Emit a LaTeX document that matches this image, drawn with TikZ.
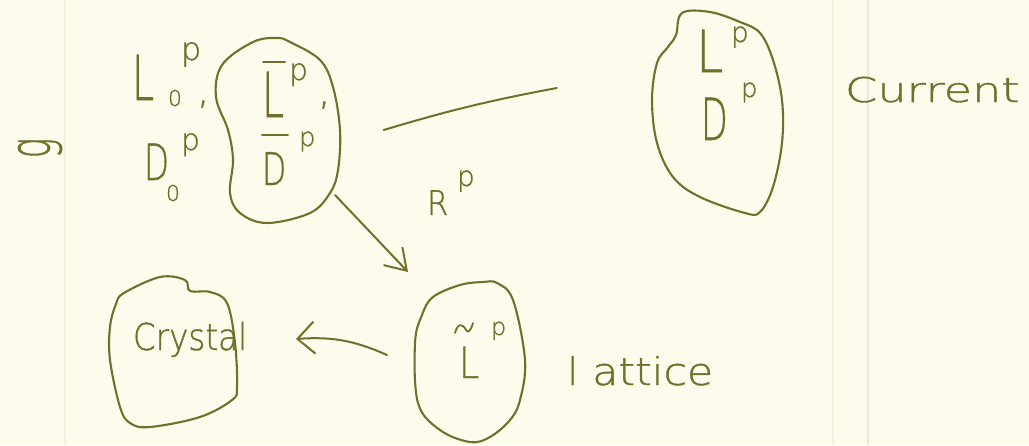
\documentclass[tikz,border=0pt]{standalone}
\usepackage{fontspec}
\setmainfont{DejaVu Sans}[UprightFont={* ExtraLight},FakeBold=1]
\usepackage{graphicx}
\usetikzlibrary{arrows.meta,shapes.geometric,calc}
\definecolor{ink}{RGB}{112,112,44}
\definecolor{paper}{RGB}{253,252,236}
\definecolor{marginpink}{RGB}{247,226,222}
\definecolor{rule}{RGB}{246,242,216}
\begin{document}
\begin{tikzpicture}[x=1pt,y=-1pt,
  hand/.style={inner sep=0pt,outer sep=0pt,anchor=base west,text=ink,font=\fontsize{#1}{#1}\selectfont},
  blob/.style={draw=ink,line width=2.1pt,line join=round},
  area/.style={ellipse,draw=none,inner sep=0pt},
  pen/.style={draw=ink,line width=2pt,line cap=round,line join=round}]
\fill[paper] (0,0) rectangle (1029,445);
\useasboundingbox (0,0) rectangle (1029,445);
\draw[rule,line width=1.2pt] (65,0) -- (65,445);
\draw[rule,line width=1.2pt] (833,0) -- (833,445);
\draw[marginpink,line width=1.2pt] (868,0) -- (868,445);

% areas
\node[area,minimum width=125pt,minimum height=185pt] (b1) at (278,130) {};
\node[area,minimum width=130pt,minimum height=203pt] (b2) at (717,113) {};
\node[area,minimum width=127pt,minimum height=150pt] (b3) at (173,352) {};
\node[area,minimum width=110pt,minimum height=160pt] (b4) at (470,362) {};

% outlines
\draw[blob] plot[smooth cycle,tension=0.6] coordinates {(253,42) (277,38) (290,42) (320,60) (333,87) (340,130) (338,170) (330,193) (310,213) (267,223) (240,213) (230,193) (233,160) (228,130) (216,97) (222,65)};
\draw[blob] plot[smooth cycle,tension=0.6] coordinates {(682,13) (710,12) (740,22) (760,33) (773,60) (782,100) (782,143) (773,187) (760,212) (745,213) (700,197) (673,177) (657,143) (652,100) (657,63) (668,47) (676,35)};
\draw[blob] plot[smooth cycle,tension=0.6] coordinates {(124,293) (160,277) (185,280) (190,291) (210,292) (227,303) (235,343) (237,387) (232,400) (200,417) (150,427) (130,423) (120,407) (110,360) (110,327) (116,304)};
\draw[blob] plot[smooth cycle,tension=0.6] coordinates {(483,282) (497,283) (513,300) (525,360) (520,400) (510,420) (490,437) (470,442) (440,430) (418,403) (415,343) (422,315) (433,297) (460,285)};

% connectors
\coordinate (c1) at ($(b1.east)+(43,0)$);
\coordinate (c2) at ($(b2.west)+(-95,-25)$);
\draw[pen] (c1) to[bend left=3] (c2);
\coordinate (r1) at (335,195);
\coordinate (r2) at (408,272);
\draw[pen,-{Straight Barb[length=20pt,width=26pt,line width=2pt]}] (r1) -- (r2);
\coordinate (a1) at (387,355);
\coordinate (a2) at (296,339);
\draw[pen,-{Straight Barb[length=17pt,width=32pt,line width=2pt]}] (a1) to[bend right=14] (a2);

% rotated letter
\node[text=ink,font=\fontsize{34}{34}\selectfont,rotate=90,inner sep=0pt] (tg) at (40,148) {\scalebox{1}[1.7]{g}};

% L0, D0
\node[hand=62] (tL0) at (132,100) {\scalebox{0.64}[1]{L}};
\node[hand=22] (tL0s) at (168,106) {0};
\node[hand=32] (tL0p) at (181,60) {p};
\node[hand=40] (tL0c) at (197,103) {,};
\node[hand=50] (tD0) at (144,180) {\scalebox{0.65}[1]{D}};
\node[hand=30] (tD0p) at (181,150) {p};
\node[hand=22] (tD0s) at (166,201) {0};

% blob 1
\node[hand=62] (tLb) at (262,117) {\scalebox{0.64}[1]{L}};
\node[hand=30] (tLbp) at (289,80) {p};
\node[hand=40] (tLbc) at (318,104) {,};
\node[hand=45] (tDb) at (262,185) {\scalebox{0.7}[1]{D}};
\node[hand=26] (tDbp) at (299,146) {p};
\draw[pen] (263,62) -- (285,62);
\draw[pen] (262,135) -- (288,135);

% blob 2
\node[hand=58] (tL) at (696,72) {\scalebox{0.85}[1]{L}};
\node[hand=28] (tLp) at (731,42) {p};
\node[hand=58] (tD) at (701,140) {\scalebox{0.6}[1]{D}};
\node[hand=26] (tDp) at (741,97) {p};
\node[hand=34] (tcur) at (845,102) {\scalebox{1.36}[1]{Current}};

% R^p
\node[hand=34] (tR) at (427,215) {\scalebox{0.9}[1]{R}};
\node[hand=28] (tRp) at (457,186) {p};

% crystal
\node[hand=37] (tcry) at (133,350) {\scalebox{0.88}[1]{Crystal}};

% L tilde
\node[hand=43] (tLt) at (459,378) {\scalebox{0.85}[1]{L}};
\node[hand=24] (tLtp) at (491,335) {p};
\draw[pen,line width=1.8pt] (455,333) .. controls (458,322) and (463,324) .. (466,330) .. controls (468,334) and (471,330) .. (473,323);
\node[hand=38] (tlat) at (567,385) {\scalebox{1.12}[1]{l attice}};
\end{tikzpicture}
\end{document}
